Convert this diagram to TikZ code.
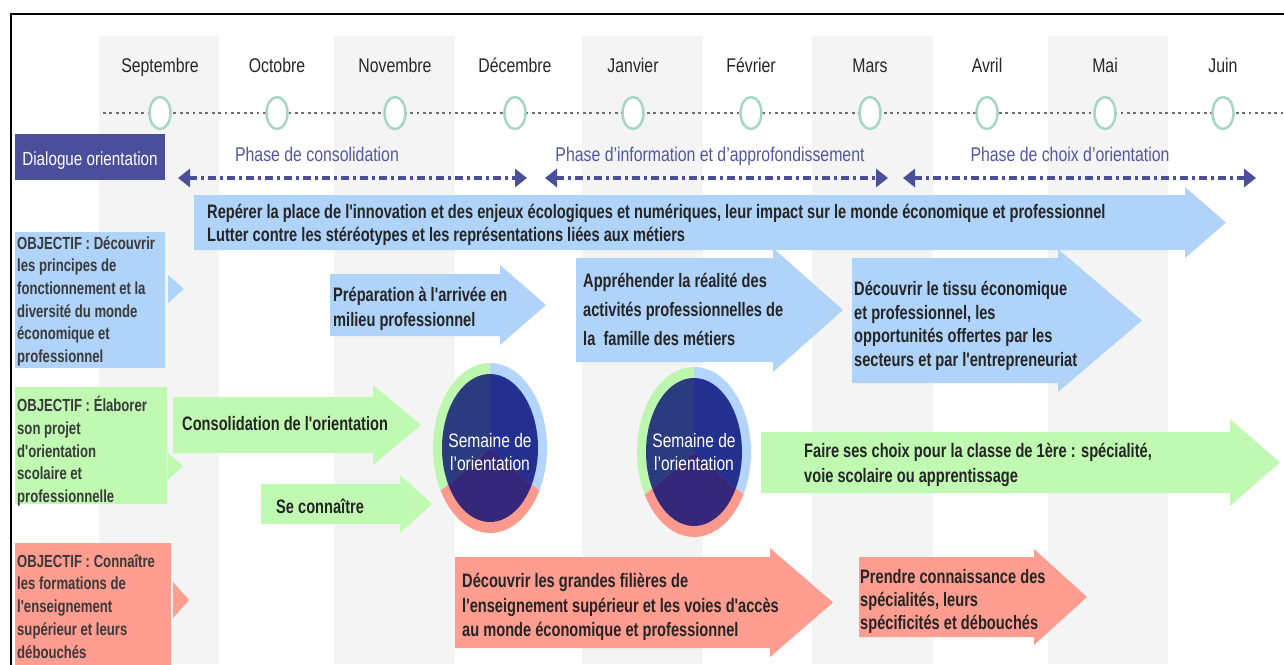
\documentclass[tikz,border=0pt]{standalone}
\usepackage{fontspec}
\setmainfont{Liberation Sans}[FakeStretch=0.8]
\newfontfamily\condb{Liberation Sans}[FakeStretch=0.75]
\usetikzlibrary{arrows.meta,shapes.geometric}
\definecolor{colgrey}{HTML}{F4F4F4}
\definecolor{lblue}{HTML}{B0D3FA}
\definecolor{lgreen}{HTML}{C0FAB2}
\definecolor{lred}{HTML}{FE9D90}
\definecolor{indigo}{HTML}{4A4E9B}
\definecolor{phasec}{HTML}{5356A6}
\definecolor{tealc}{HTML}{A8D6C4}
\definecolor{dotc}{HTML}{6E6E6E}
\definecolor{txtd}{HTML}{252525}
\definecolor{txto}{HTML}{3A3A3A}
\definecolor{ringg}{HTML}{BDF6AE}
\definecolor{ringb}{HTML}{B3D5FB}
\definecolor{ringr}{HTML}{FC9B8D}
\definecolor{inTL}{HTML}{2A3B80}
\definecolor{inTR}{HTML}{24308F}
\definecolor{inB}{HTML}{35287A}
\newcommand\blockarr[8]{%
  \fill[#2] (#3,#6) -- (#4,#6) -- (#4,#6-#8) -- (#5,{(#6+#7)/2}) -- (#4,#7+#8) -- (#4,#7) -- (#3,#7) -- cycle;
  \coordinate (#1) at (#5,{(#6+#7)/2});}
\newcommand\semcirc[3]{%
  \begin{scope}[shift={(#2,#3)}]
    \fill[ringb] (0,0) -- (-90:57 and 85) arc[start angle=-90, end angle=30, x radius=57, y radius=85] -- cycle;
    \fill[ringr] (0,0) -- (30:57 and 85) arc[start angle=30, end angle=150, x radius=57, y radius=85] -- cycle;
    \fill[ringg] (0,0) -- (150:57 and 85) arc[start angle=150, end angle=270, x radius=57, y radius=85] -- cycle;
    \fill[inTR] (0,0) -- (-90:48 and 74) arc[start angle=-90, end angle=30, x radius=48, y radius=74] -- cycle;
    \fill[inB] (0,0) -- (30:48 and 74) arc[start angle=30, end angle=150, x radius=48, y radius=74] -- cycle;
    \fill[inTL] (0,0) -- (150:48 and 74) arc[start angle=150, end angle=270, x radius=48, y radius=74] -- cycle;
    \coordinate (#1) at (0,0);
  \end{scope}}
\begin{document}
\begin{tikzpicture}[x=1pt,y=-1pt,
  every node/.style={inner sep=0pt},
  monthlbl/.style={font=\fontsize{19.8}{22}\selectfont, text=black!85, anchor=base},
  mcirc/.style={ellipse, draw=tealc, line width=2.5pt, fill=white, minimum width=21pt, minimum height=32pt},
  phaselbl/.style={font=\fontsize{19.8}{22}\selectfont, text=phasec, anchor=base},
  phasearr/.style={draw=indigo, line width=4pt, dash pattern=on 8pt off 4pt on 3pt off 4pt,
     {Triangle[length=12pt,width=18pt]}-{Triangle[length=12pt,width=18pt]}},
  dotline/.style={draw=dotc, line width=2.8pt, dash pattern=on 2.8pt off 3.6pt},
  arrtxt/.style={font={\condb\bfseries\fontsize{19.5}{23.5}\selectfont}, text=txtd, align=left, anchor=north west},
  objtxt/.style={font={\condb\bfseries\fontsize{17.5}{22.7}\selectfont}, text=txto, align=left, anchor=north west},
  semtxt/.style={font=\fontsize{19.5}{23.5}\selectfont, text=white, align=center, anchor=north}
]
\useasboundingbox (0,0) rectangle (1284,664);
\fill[white] (0,0) rectangle (1284,664);
% grey month columns
\foreach \a/\b in {99/219, 334/455, 582/703, 812/933, 1048/1168}
  \fill[colgrey] (\a,36) rectangle (\b,664);
% frame
\draw[line width=2pt] (11,670) -- (11,14) -- (1290,14);
% timeline
\coordinate (tlA) at (103,113);
\coordinate (tlB) at (1284,113);
\draw[dotline] (tlA) -- (tlB);
\foreach \m/\x [count=\i] in {Septembre/160, Octobre/277, Novembre/395, Décembre/515, Janvier/633,
   Février/751, Mars/870, Avril/987, Mai/1105, Juin/1223} {
  \node[monthlbl] (m\i) at (\x,72) {\m};
  \node[mcirc] (c\i) at (\x,113) {};
}
% dialogue + phases
\fill[indigo] (15,134) rectangle (165,180);
\node[font=\fontsize{19}{22}\selectfont, text=white, anchor=base] (dialog) at (90,165) {Dialogue orientation};
\node[phaselbl] (ph1) at (317,161) {Phase de consolidation};
\node[phaselbl] (ph2) at (710,161) {Phase d'information et d'approfondissement};
\node[phaselbl] (ph3) at (1070,161) {Phase de choix d'orientation};
\coordinate (p1a) at (178,178); \coordinate (p1b) at (527,178);
\coordinate (p2a) at (545,178); \coordinate (p2b) at (888,178);
\coordinate (p3a) at (903,178); \coordinate (p3b) at (1256,178);
\draw[phasearr] (p1a) -- (p1b);
\draw[phasearr] (p2a) -- (p2b);
\draw[phasearr] (p3a) -- (p3b);
% block arrows
\blockarr{abig}{lblue}{194}{1185}{1226}{195}{250}{8}
\blockarr{aprep}{lblue}{330}{500}{546}{274}{336}{9}
\blockarr{aappr}{lblue}{576}{773}{843}{258}{362}{10}
\blockarr{atissu}{lblue}{852}{1058}{1142}{258}{383}{9}
\blockarr{acons}{lgreen}{173}{373}{421}{397}{453}{12}
\blockarr{ase}{lgreen}{261}{400}{432}{484}{524}{9}
\blockarr{afaire}{lgreen}{761}{1230}{1280}{432}{493}{13}
\blockarr{ared1}{lred}{455}{770}{833}{557}{648}{9}
\blockarr{ared2}{lred}{859}{1034}{1087}{557}{637}{8}
% objective boxes
\fill[lblue] (15,232) rectangle (165,368);
\fill[lblue] (168,275) -- (184,289) -- (168,303) -- cycle;
\fill[lgreen] (15,387) rectangle (167,504);
\fill[lgreen] (168,453) -- (183,466) -- (168,480) -- cycle;
\fill[lred] (15,543) rectangle (171,670);
\fill[lred] (173,582) -- (189,600) -- (173,618) -- cycle;
\node[objtxt] (o1) at (17,236) {OBJECTIF : Découvrir\\les principes de\\fonctionnement et la\\diversité du monde\\économique et\\professionnel};
\node[objtxt] (o2) at (17,396) {OBJECTIF : Élaborer\\son projet\\d'orientation\\scolaire et\\professionnelle};
\node[objtxt] (o3) at (17,554) {OBJECTIF : Connaître\\les formations de\\l'enseignement\\supérieur et leurs\\débouchés};
% arrow texts
\node[arrtxt, font={\condb\bfseries\fontsize{19.5}{23}\selectfont}] (tbig) at (207,204) {Repérer la place de l'innovation et des enjeux écologiques et numériques, leur impact sur le monde économique et professionnel\\Lutter contre les stéréotypes et les représentations liées aux métiers};
\node[arrtxt, font={\condb\bfseries\fontsize{19.5}{25}\selectfont}] (tprep) at (333,287) {Préparation à l'arrivée en\\milieu professionnel};
\node[arrtxt, font={\condb\bfseries\fontsize{19.5}{29}\selectfont}] (tappr) at (583,273) {Appréhender la réalité des\\activités professionnelles de\\la\ \ famille des métiers};
\node[arrtxt] (ttissu) at (854,281) {Découvrir le tissu économique\\et professionnel, les\\opportunités offertes par les\\secteurs et par l'entrepreneuriat};
\node[arrtxt] (tcons) at (182,416) {Consolidation de l'orientation};
\node[arrtxt] (tse) at (276,499) {Se connaître};
\node[arrtxt, font={\condb\bfseries\fontsize{19.5}{25}\selectfont}] (tfaire) at (804,443) {Faire ses choix pour la classe de 1ère : spécialité,\\voie scolaire ou apprentissage};
\node[arrtxt, font={\condb\bfseries\fontsize{19.5}{24.5}\selectfont}] (tred1) at (462,573) {Découvrir les grandes filières de\\l'enseignement supérieur et les voies d'accès\\au monde économique et professionnel};
\node[arrtxt, font={\condb\bfseries\fontsize{19.5}{23}\selectfont}] (tred2) at (860,569) {Prendre connaissance des\\spécialités, leurs\\spécificités et débouchés};
% semaine circles
\semcirc{s1}{490}{448}
\semcirc{s2}{694}{452}
\node[semtxt] (st1) at (490,433) {Semaine de\\l'orientation};
\node[semtxt] (st2) at (694,433) {Semaine de\\l'orientation};
\end{tikzpicture}
\end{document}
